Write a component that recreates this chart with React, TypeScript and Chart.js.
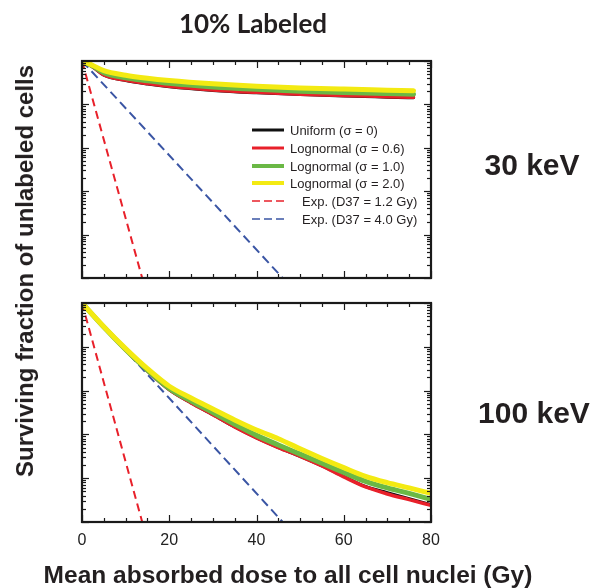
import React, { useEffect, useRef } from "react";
import { Chart, registerables } from "chart.js";
Chart.register(...registerables);

// ---- data (surviving fraction vs mean absorbed dose, Gy) ----
const topDose = [0, 1, 2.5, 5, 10, 15, 20, 30, 40, 50, 60, 70, 76];
const topUniform = [1, 0.88, 0.72, 0.47, 0.355, 0.295, 0.255, 0.21, 0.185, 0.168, 0.156, 0.147, 0.142];
const topLog06 = [1, 0.89, 0.73, 0.48, 0.362, 0.302, 0.262, 0.216, 0.19, 0.172, 0.16, 0.151, 0.146];
const topLog10 = [1, 0.9, 0.76, 0.54, 0.41, 0.35, 0.305, 0.252, 0.222, 0.202, 0.189, 0.178, 0.172];
const topLog20 = [1, 0.91, 0.79, 0.6, 0.47, 0.4, 0.355, 0.298, 0.262, 0.24, 0.225, 0.213, 0.206];

const botDose = [0, 5, 10, 15, 20, 25, 30, 35, 40, 45, 50, 55, 60, 65, 70, 75, 80];
const botUniform = [1, 0.282, 0.0851, 0.0282, 0.0105, 0.00525, 0.00282, 0.00148, 0.000832, 0.000501, 0.000316, 0.000191, 0.00011, 6.46e-5, 4.68e-5, 3.39e-5, 2.51e-5];
const botLog06 = [1, 0.282, 0.0851, 0.0282, 0.0105, 0.00525, 0.00282, 0.00148, 0.000832, 0.000501, 0.000316, 0.000191, 0.000107, 6.3e-5, 4.37e-5, 3.24e-5, 2.4e-5];
const botLog10 = [1, 0.282, 0.087, 0.0295, 0.0112, 0.00575, 0.00316, 0.0017, 0.00095, 0.000575, 0.000355, 0.000219, 0.000135, 8.5e-5, 6.0e-5, 4.5e-5, 3.3e-5];
const botLog20 = [1, 0.288, 0.091, 0.0316, 0.0126, 0.00676, 0.0038, 0.00214, 0.00126, 0.000794, 0.000468, 0.000282, 0.000174, 0.00011, 7.9e-5, 6.0e-5, 4.5e-5];

const exp12Dose = [0, 13.8];
const exp40Dose = [0, 46];
const expValues = [1, 1e-5];

const xTickLabels = [0, 20, 40, 60, 80];

const legendItems = [
  { label: "Uniform (σ = 0)", color: "#111111", width: 3, dashed: false },
  { label: "Lognormal (σ = 0.6)", color: "#e8202a", width: 3, dashed: false },
  { label: "Lognormal (σ = 1.0)", color: "#6ab845", width: 4, dashed: false },
  { label: "Lognormal (σ = 2.0)", color: "#f3ea12", width: 4, dashed: false },
  { label: "Exp. (D37 = 1.2 Gy)", color: "#e8202a", width: 1.5, dashed: true },
  { label: "Exp. (D37 = 4.0 Gy)", color: "#3a55a4", width: 1.5, dashed: true },
];

const pts = (xs: number[], ys: number[]) => xs.map((x, i) => ({ x, y: ys[i] }));

const frameTicks = {
  id: "frameTicks",
  afterDatasetsDraw(chart: any) {
    const { ctx, chartArea: a, scales } = chart;
    const xs = scales.x;
    const ys = scales.y;
    ctx.save();
    ctx.strokeStyle = "#1a1a1a";
    ctx.lineWidth = 1.2;
    const seg = (x1: number, y1: number, x2: number, y2: number) => {
      ctx.beginPath();
      ctx.moveTo(x1, y1);
      ctx.lineTo(x2, y2);
      ctx.stroke();
    };
    for (let d = 0; d <= 80; d += 5) {
      const px = Math.round(xs.getPixelForValue(d)) + 0.5;
      const len = d % 20 === 0 ? 7 : 4;
      seg(px, a.bottom, px, a.bottom - len);
      seg(px, a.top, px, a.top + len);
    }
    for (let e = -5; e <= 0; e++) {
      for (let m = 1; m <= 9; m++) {
        if (e === 0 && m > 1) break;
        const v = m * Math.pow(10, e);
        const py = Math.round(ys.getPixelForValue(v)) + 0.5;
        const len = m === 1 ? 7 : 4;
        seg(a.left, py, a.left + len, py);
        seg(a.right, py, a.right - len, py);
      }
    }
    ctx.lineWidth = 2.2;
    ctx.strokeRect(a.left, a.top, a.right - a.left, a.bottom - a.top);
    ctx.restore();
  },
};

type PanelProps = {
  top: number;
  height: number;
  padTop: number;
  padBottom: number;
  dose: number[];
  uni: number[];
  l06: number[];
  l10: number[];
  l20: number[];
  showX: boolean;
};

function Panel(p: PanelProps) {
  const ref = useRef<HTMLCanvasElement | null>(null);
  useEffect(() => {
    if (!ref.current) return;
    const solid = (data: any, color: string, w: number) => ({
      data,
      borderColor: color,
      borderWidth: w,
      pointRadius: 0,
      fill: false,
      cubicInterpolationMode: "monotone",
      borderJoinStyle: "round",
      borderCapStyle: "round",
    });
    const xScale: any = {
      type: "linear",
      min: 0,
      max: 80,
      display: p.showX,
      grid: { display: false, drawTicks: false },
      border: { display: false },
      afterBuildTicks: (s: any) => {
        s.ticks = xTickLabels.map((v) => ({ value: v }));
      },
      ticks: {
        padding: 9,
        color: "#222",
        font: { family: "Arial, 'Liberation Sans', sans-serif", size: 16 },
        maxRotation: 0,
      },
    };
    if (p.showX) {
      xScale.afterFit = (s: any) => {
        s.height = 40;
      };
    }
    const chart = new Chart(ref.current, {
      type: "line",
      data: {
        datasets: [
          { ...solid(pts(p.dose, p.l20), "#f3ea12", 5), order: 1 },
          { ...solid(pts(p.dose, p.l10), "#6ab845", 5), order: 2 },
          { ...solid(pts(p.dose, p.l06), "#e8202a", 3.5), order: 3 },
          { ...solid(pts(p.dose, p.uni), "#111111", 3), order: 4 },
          {
            data: pts(exp12Dose, expValues),
            borderColor: "#e8202a",
            borderWidth: 2,
            borderDash: [8, 5],
            pointRadius: 0,
            order: 5,
          },
          {
            data: pts(exp40Dose, expValues),
            borderColor: "#3a55a4",
            borderWidth: 2,
            borderDash: [9, 5],
            pointRadius: 0,
            order: 6,
          },
        ] as any,
      },
      options: {
        responsive: false,
        animation: false,
        layout: { padding: { left: 82, right: 169, top: p.padTop, bottom: p.padBottom } },
        plugins: { legend: { display: false }, tooltip: { enabled: false } },
        scales: {
          x: xScale,
          y: {
            type: "logarithmic",
            min: 1e-5,
            max: 1,
            display: false,
          },
        },
      } as any,
      plugins: [frameTicks],
    });
    return () => chart.destroy();
  }, []);
  return (
    <canvas
      ref={ref}
      width={600}
      height={p.height}
      style={{ position: "absolute", left: 0, top: p.top, width: 600, height: p.height }}
    />
  );
}

const abs = (x: number, y: number): React.CSSProperties => ({
  position: "absolute",
  left: x,
  top: y,
  transform: "translate(-50%, -50%)",
  whiteSpace: "nowrap",
  lineHeight: 1,
});

export default function App() {
  return (
    <div
      style={{
        position: "fixed",
        left: 0,
        top: 0,
        width: 600,
        height: 588,
        background: "#fff",
        fontFamily: "Arial, 'Liberation Sans', sans-serif",
        color: "#231f20",
        overflow: "hidden",
      }}
    >
      <Panel top={0} height={290} padTop={61} padBottom={12} dose={topDose} uni={topUniform} l06={topLog06} l10={topLog10} l20={topLog20} showX={false} />
      <Panel top={290} height={298} padTop={13} padBottom={26} dose={botDose} uni={botUniform} l06={botLog06} l10={botLog10} l20={botLog20} showX={true} />

      <div style={{ ...abs(253, 23), fontFamily: "Lato, 'Open Sans', sans-serif", fontWeight: 700, fontSize: 26 }}>10% Labeled</div>
      <div style={{ ...abs(532, 165), fontWeight: 700, fontSize: 30 }}>30 keV</div>
      <div style={{ ...abs(534, 413), fontWeight: 700, fontSize: 30 }}>100 keV</div>
      <div style={{ ...abs(288, 575), fontWeight: 700, fontSize: 24.5 }}>Mean absorbed dose to all cell nuclei (Gy)</div>
      <div style={{ ...abs(25, 271), transform: "translate(-50%, -50%) rotate(-90deg)", fontWeight: 700, fontSize: 24 }}>
        Surviving fraction of unlabeled cells
      </div>

      {legendItems.map((it, i) => {
        const cy = 130 + i * 17.8;
        return (
          <React.Fragment key={i}>
            <svg style={{ position: "absolute", left: 251, top: cy - 4, width: 34, height: 8 }} width={34} height={8}>
              <line
                x1={1}
                y1={4}
                x2={33}
                y2={4}
                stroke={it.color}
                strokeWidth={it.width}
                strokeDasharray={it.dashed ? "8 4" : undefined}
              />
            </svg>
            <div
              style={{
                position: "absolute",
                left: it.dashed ? 302 : 290,
                top: cy,
                transform: "translateY(-50%)",
                fontSize: 13,
                lineHeight: 1,
                whiteSpace: "nowrap",
              }}
            >
              {it.label}
            </div>
          </React.Fragment>
        );
      })}
    </div>
  );
}
